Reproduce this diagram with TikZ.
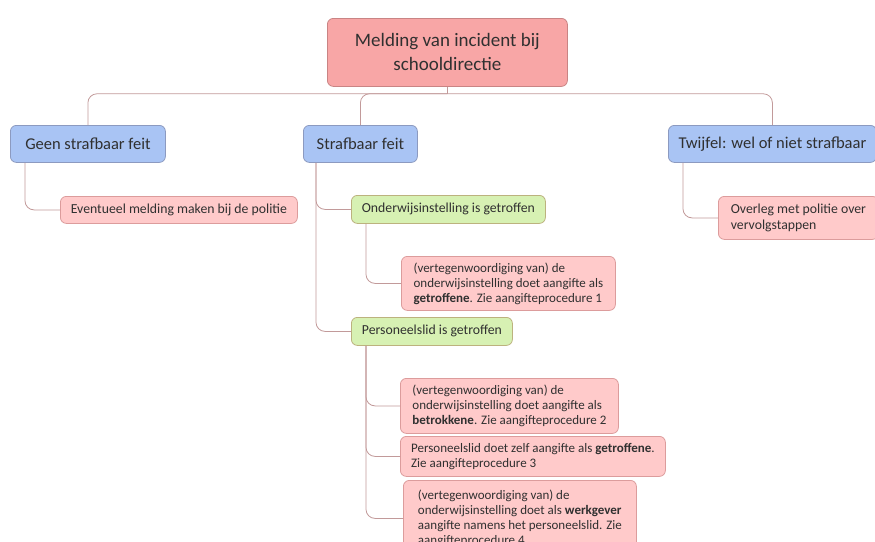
\documentclass[tikz,border=0pt]{standalone}
\usepackage{fontspec}
\setmainfont{Carlito}
\definecolor{rootfill}{HTML}{F8A6A6}
\definecolor{rootedge}{HTML}{C98484}
\definecolor{leaffill}{HTML}{FFCACA}
\definecolor{leafedge}{HTML}{DC9C9C}
\definecolor{bluefill}{HTML}{A9C4F4}
\definecolor{blueedge}{HTML}{8C9AC0}
\definecolor{greenfill}{HTML}{D7F1B3}
\definecolor{greenedge}{HTML}{BCB27E}
\definecolor{linkcol}{HTML}{C29A9A}
\definecolor{txt}{HTML}{303030}
\tikzset{
  box/.style={draw, rounded corners=6pt, anchor=north west, line width=0.8pt, text=txt, inner sep=0pt},
  rootbox/.style={box, fill=rootfill, draw=rootedge, align=center, font=\fontsize{19}{24}\selectfont},
  topic/.style={box, fill=bluefill, draw=blueedge, font=\fontsize{16.5}{20}\selectfont},
  sub/.style={box, fill=greenfill, draw=greenedge, font=\fontsize{13.75}{15}\selectfont},
  leaf/.style={box, fill=leaffill, draw=leafedge, align=left, font=\fontsize{13.75}{15.5}\selectfont},
  proc/.style={leaf, font=\fontsize{13}{15}\selectfont},
  link/.style={draw=linkcol, line width=0.8pt, rounded corners=9pt},
}
\begin{document}
\begin{tikzpicture}[x=1pt,y=-1pt]
	\useasboundingbox (0,0) rectangle (875,541);
	\clip (0,0) rectangle (875,541);
	\node [rootbox, minimum width=240, minimum height=68] (root) at (327,18) {Melding van incident bij\\schooldirectie};
	\node [topic, minimum width=155, minimum height=37] (geen) at (10,125) {Geen strafbaar feit};
	\node [topic, minimum width=114, minimum height=37] (straf) at (303,125) {Strafbaar feit};
	\node [topic, minimum width=208, minimum height=37] (twijfel) at (668,125) {Twijfel: wel of niet strafbaar};
	\node [leaf, minimum width=237, minimum height=27] (melden) at (60,196) {Eventueel melding maken bij de politie};
	\node [sub, minimum width=194, minimum height=28] (instelling) at (351,195) {Onderwijsinstelling is getroffen};
	\node [proc, minimum width=214, minimum height=54] (aangifte1) at (401,256) {(vertegenwoordiging van) de\\onderwijsinstelling doet aangifte als\\\textbf{getroffene}. Zie aangifteprocedure 1};
	\node [sub, minimum width=161, minimum height=28] (personeel) at (351,317) {Personeelslid is getroffen};
	\node [proc, minimum width=218, minimum height=55] (aangifte2) at (400,378) {(vertegenwoordiging van) de\\onderwijsinstelling doet aangifte als\\\textbf{betrokkene}. Zie aangifteprocedure 2};
	\node [proc, minimum width=265, minimum height=40] (aangifte3) at (400,436) {Personeelslid doet zelf aangifte als \textbf{getroffene}.\\Zie aangifteprocedure 3};
	\node [proc, minimum width=233, minimum height=76] (aangifte4) at (403,480) {(vertegenwoordiging van) de\\onderwijsinstelling doet als \textbf{werkgever}\\aangifte namens het personeelslid. Zie\\aangifteprocedure 4};
	\node [leaf, minimum width=160, minimum height=43] (overleg) at (718,196) {Overleg met politie over\\vervolgstappen};
	\coordinate (bus) at ([yshift=-7pt]root.south);
	\draw [link] (root.south) -- (bus);
	\draw [link] (bus) -| (geen.north);
	\draw [link] (bus) -| (straf.north);
	\draw [link] (bus) -| (twijfel.north);
	\draw [link] ([xshift=15pt]geen.south west) |- (melden.west);
	\draw [link] ([xshift=13pt]straf.south west) |- (instelling.west);
	\draw [link] ([xshift=13pt]straf.south west) |- (personeel.west);
	\draw [link] ([xshift=15pt]instelling.south west) |- (aangifte1.west);
	\draw [link] ([xshift=15pt]personeel.south west) |- (aangifte2.west);
	\draw [link] ([xshift=15pt]personeel.south west) |- (aangifte3.west);
	\draw [link] ([xshift=15pt]personeel.south west) |- (aangifte4.west);
	\draw [link] ([xshift=15pt]twijfel.south west) |- (overleg.west);
\end{tikzpicture}
\end{document}
